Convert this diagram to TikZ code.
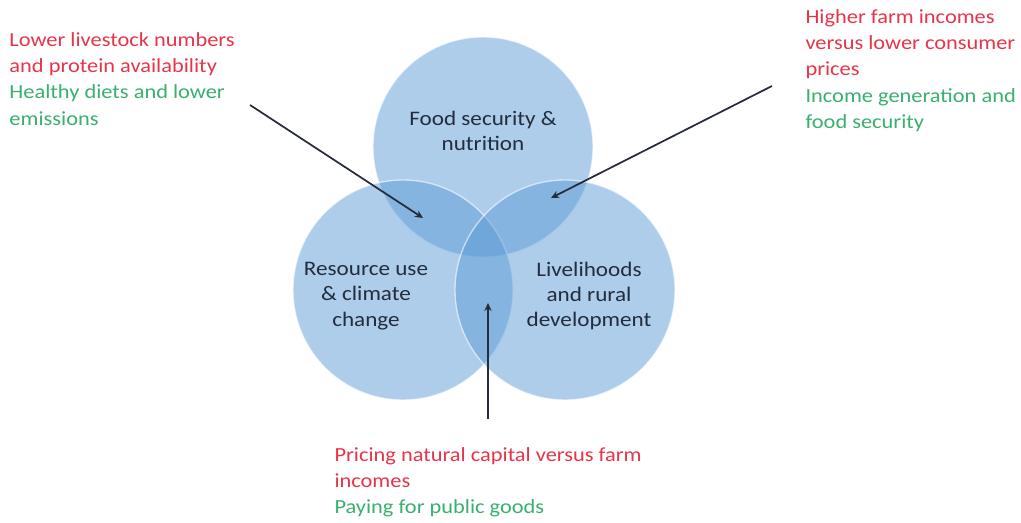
\documentclass[tikz,border=0pt]{standalone}
\usepackage{fontspec}
\setmainfont{Carlito}[FakeStretch=1.12]
\usetikzlibrary{arrows.meta}

\definecolor{vennblue}{RGB}{91,155,213}
\definecolor{tradered}{RGB}{232,52,72}
\definecolor{synergygreen}{RGB}{56,176,110}
\definecolor{themeink}{RGB}{35,45,62}

\tikzset{every picture/.style={line width=0.75pt}}
\tikzset{
  venn/.style={fill=vennblue, fill opacity=0.5, draw=white, draw opacity=0.6, line width=1pt},
  theme/.style={text=themeink, align=center, inner sep=0.75pt, font=\fontsize{15.5}{19}\selectfont},
  tradeoff/.style={anchor=north west, align=left, inner sep=0.75pt, font=\fontsize{15}{19.7}\selectfont},
  pointer/.style={draw={rgb,255:red,38;green,44;blue,58}, line width=1.3pt, -{Stealth[length=6pt,width=5.5pt]}}
}

\begin{document}
\begin{tikzpicture}[x=0.75pt,y=0.75pt,yscale=-1,xscale=1]
\path[use as bounding box] (0,0) rectangle (1021,523);

%Circles
\draw[venn] (483,147) circle (110);
\draw[venn] (403,290) circle (110);
\draw[venn] (565,290) circle (110);

% Circle labels
\node[theme] (food) at (483,131) {Food security \&\\nutrition};
\node[theme] (resource) at (366,296) {Resource use\\\& climate\\change};
\node[theme] (livelihood) at (589,296) {Livelihoods\\and rural\\development};

% Text Node
\node[tradeoff] (leftnote) at (8,31) {\textcolor{tradered}{Lower livestock numbers}\\\textcolor{tradered}{and protein availability}\\\textcolor{synergygreen}{Healthy diets and lower}\\\textcolor{synergygreen}{emissions}};
% Text Node
\node[tradeoff] (rightnote) at (804,8) {\textcolor{tradered}{Higher farm incomes}\\\textcolor{tradered}{versus lower consumer}\\\textcolor{tradered}{prices}\\\textcolor{synergygreen}{Income generation and}\\\textcolor{synergygreen}{food security}};
% Text Node
\node[tradeoff] (bottomnote) at (333,446) {\textcolor{tradered}{Pricing natural capital versus farm}\\\textcolor{tradered}{incomes}\\\textcolor{synergygreen}{Paying for public goods}};

% Pointers
\coordinate (leftstart) at (250,105);
\coordinate (foodresource) at (423,218);
\coordinate (rightstart) at (772,86);
\coordinate (foodlivelihood) at (551,198);
\coordinate (bottomstart) at (488,419);
\coordinate (resourcelivelihood) at (488,303);

\draw[pointer] (leftstart) -- (foodresource);
\draw[pointer] (rightstart) -- (foodlivelihood);
\draw[pointer] (bottomstart) -- (resourcelivelihood);

\end{tikzpicture}
\end{document}
